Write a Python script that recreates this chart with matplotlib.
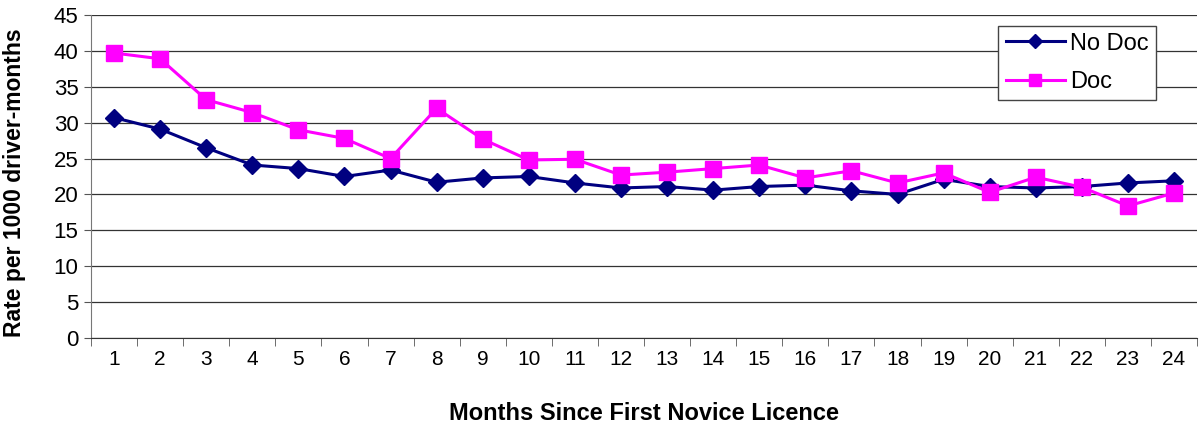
import matplotlib
matplotlib.use("Agg")
import matplotlib.pyplot as plt
import numpy as np

plt.rcParams['font.family'] = ['Liberation Sans', 'DejaVu Sans']

# data
months = list(range(1, 25))
no_doc = [30.7, 29.1, 26.5, 24.1, 23.6, 22.5, 23.4, 21.7, 22.3, 22.5, 21.6, 20.9,
          21.1, 20.6, 21.1, 21.3, 20.5, 20.0, 22.1, 21.1, 20.9, 21.1, 21.6, 21.9]
doc = [39.7, 38.9, 33.2, 31.4, 29.0, 27.8, 25.0, 32.0, 27.7, 24.8, 24.9, 22.7,
       23.1, 23.6, 24.1, 22.3, 23.3, 21.6, 23.0, 20.3, 22.4, 21.0, 18.4, 20.2]
yticks = list(range(0, 50, 5))

fig = plt.figure(figsize=(11.99, 4.28), dpi=100)
ax = fig.add_axes([0.0759, 0.2103, 0.9225, 0.7547])

ax.plot(months, no_doc, color='#000080', lw=2.2, marker='D', ms=9.5,
        label='No Doc', zorder=3)
ax.plot(months, doc, color='#FF00FF', lw=2.2, marker='s', ms=11.5,
        label='Doc', zorder=3)

ax.set_xlim(0.5, 24.5)
ax.set_ylim(0, 45)
ax.set_yticks(yticks)
ax.set_xticks(months)
ax.set_xticks(np.arange(0.5, 25, 1), minor=True)
ax.tick_params(axis='x', which='major', length=0, pad=9, labelsize=15)
ax.tick_params(axis='x', which='minor', length=6, color='#555555')
ax.tick_params(axis='y', length=5, color='#555555', labelsize=16, pad=4)

ax.grid(axis='y', color='#333333', lw=0.9)
ax.set_axisbelow(True)
for s in ['top', 'right']:
    ax.spines[s].set_visible(False)
ax.spines['left'].set_color('#777777')
ax.spines['bottom'].set_color('#333333')

ax.set_xlabel('Months Since First Novice Licence', fontsize=17, fontweight='bold')
ax.set_ylabel('Rate per 1000 driver-months', fontsize=16.5, fontweight='bold')
ax.xaxis.set_label_coords(0.5, -0.197)
ax.yaxis.set_label_coords(-0.0585, 0.48)

leg = ax.legend(loc='upper right', bbox_to_anchor=(0.963, 0.967), fontsize=17,
                fancybox=False, edgecolor='#444444', framealpha=1,
                handlelength=2.5, handletextpad=0.25, borderpad=0.3,
                labelspacing=0.7, borderaxespad=0, markerscale=0.8)
leg.get_frame().set_linewidth(1)

fig.savefig('out.png', dpi=100)
